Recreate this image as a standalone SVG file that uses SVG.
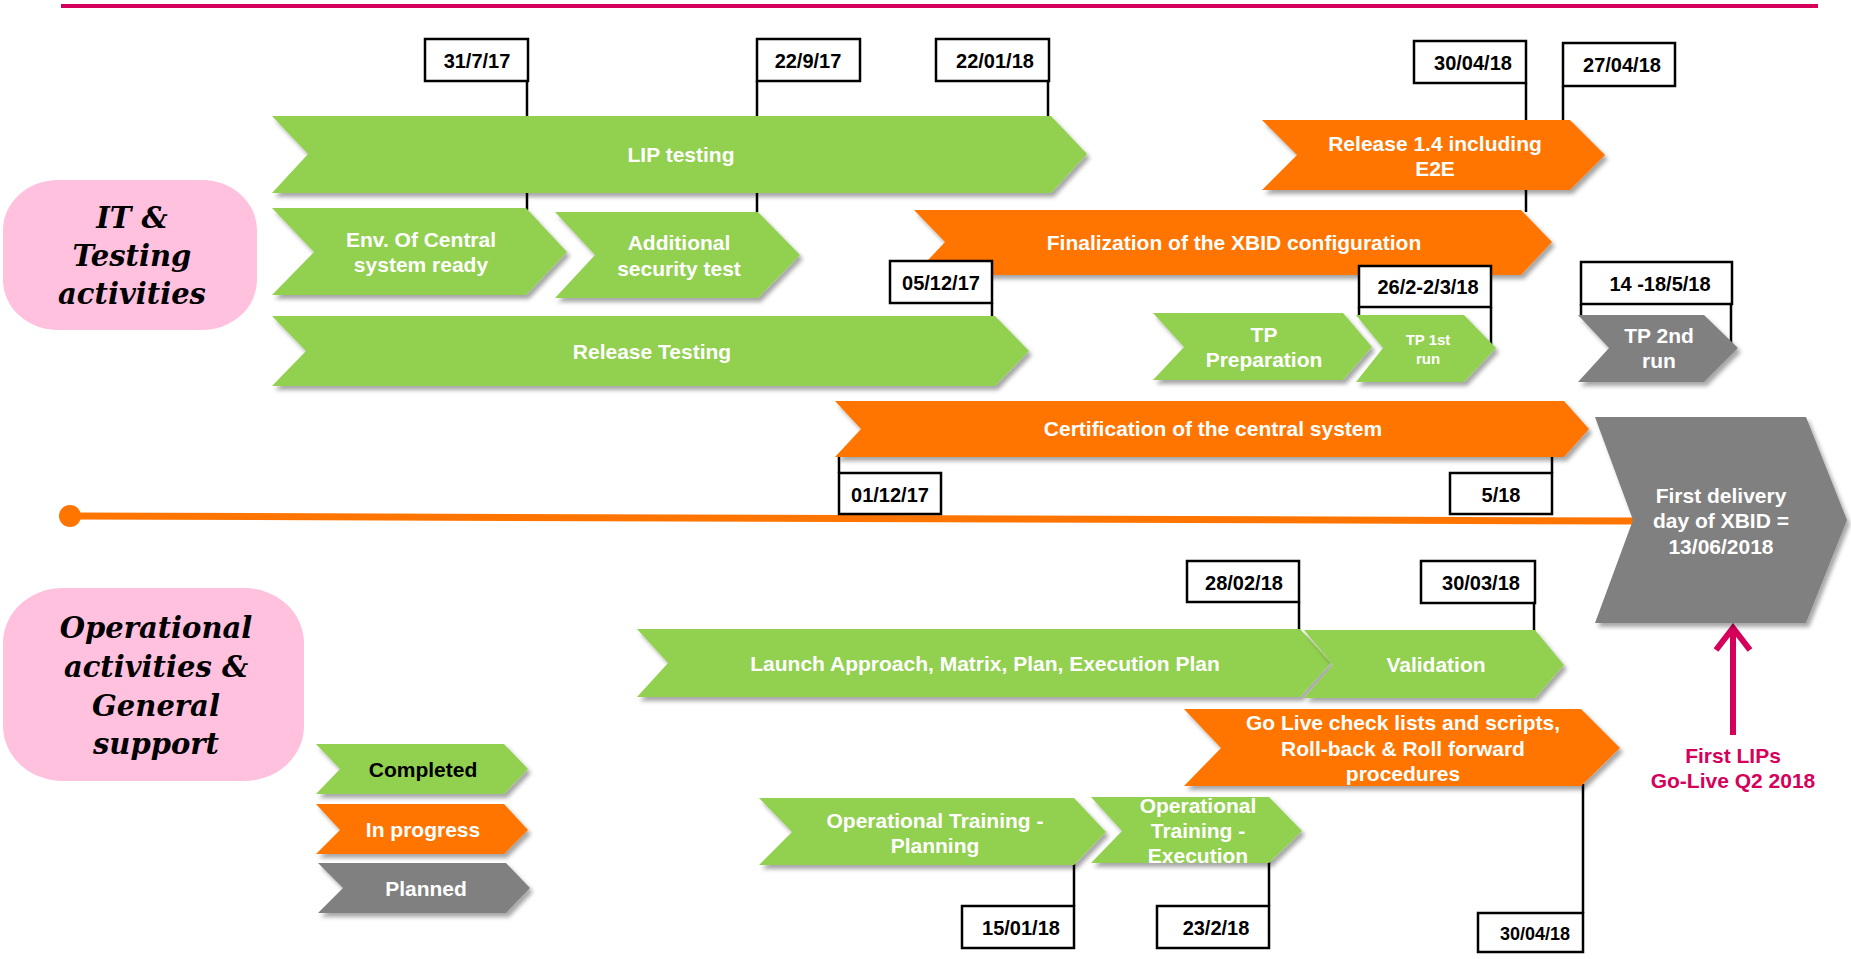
<svg xmlns="http://www.w3.org/2000/svg" width="1851" height="959" viewBox="0 0 1851 959">
<defs>
<filter id="sh" x="-10%" y="-20%" width="130%" height="150%">
<feDropShadow dx="3" dy="4" stdDeviation="2" flood-color="#000" flood-opacity="0.35"/>
</filter>
<style>
.g{fill:#92D050;filter:url(#sh)}
.o{fill:#FF7500;filter:url(#sh)}
.p{fill:#808080;filter:url(#sh)}
.t{font-family:"Liberation Sans",Arial,sans-serif;font-weight:bold;font-size:21px;fill:#fff;text-anchor:middle}
.tk{fill:#000}
.db{fill:#fff;stroke:#000;stroke-width:2.5}
.dt{font-family:"Liberation Sans",Arial,sans-serif;font-weight:bold;font-size:20px;fill:#000;text-anchor:middle}
.dl{stroke:#000;stroke-width:2.5;fill:none}
.cat{fill:#FFC1DD}
.ct{font-family:"DejaVu Serif","Liberation Serif",serif;font-weight:bold;font-style:italic;font-size:29px;fill:#000;text-anchor:middle}
</style>
</defs>
<rect width="1851" height="959" fill="#fff"/>
<line x1="61" y1="6" x2="1818" y2="6" stroke="#D6005B" stroke-width="4"/>

<g id="connectors">
<line class="dl" x1="527" y1="81" x2="527" y2="210"/>
<line class="dl" x1="757" y1="81" x2="757" y2="212"/>
<line class="dl" x1="1048" y1="81" x2="1048" y2="118"/>
<line class="dl" x1="1526" y1="83" x2="1526" y2="212"/>
<line class="dl" x1="1563" y1="86" x2="1563" y2="122"/>
<line class="dl" x1="992" y1="303" x2="992" y2="318"/>
<line class="dl" x1="1359" y1="307" x2="1359" y2="317"/>
<line class="dl" x1="1491" y1="307" x2="1491" y2="345"/>
<line class="dl" x1="1581" y1="304" x2="1581" y2="317"/>
<line class="dl" x1="1731" y1="304" x2="1731" y2="345"/>
<line class="dl" x1="839" y1="455" x2="839" y2="473"/>
<line class="dl" x1="1552" y1="455" x2="1552" y2="473"/>
<line class="dl" x1="1299" y1="602" x2="1299" y2="631"/>
<line class="dl" x1="1534" y1="603" x2="1534" y2="632"/>
<line class="dl" x1="1074" y1="863" x2="1074" y2="906"/>
<line class="dl" x1="1269" y1="861" x2="1269" y2="906"/>
<line class="dl" x1="1583" y1="784" x2="1583" y2="913"/>
<line x1="70" y1="516" x2="1636" y2="521" stroke="#FF7500" stroke-width="7"/>
<circle cx="70" cy="516" r="11" fill="#FF7500"/>
<line x1="1733" y1="735" x2="1733" y2="630" stroke="#D6005B" stroke-width="6"/>
<polyline points="1716,650 1733,628 1750,650" fill="none" stroke="#D6005B" stroke-width="6"/>
</g>

<g id="cat-it">
<rect class="cat" x="3" y="180" width="254" height="150" rx="55" ry="50"/>
<text class="ct" x="132" y="228">IT &amp;</text>
<text class="ct" x="132" y="266">Testing</text>
<text class="ct" x="132" y="304">activities</text>
</g>
<g id="cat-op">
<rect class="cat" x="3" y="588" width="301" height="193" rx="60" ry="55"/>
<text class="ct" x="156" y="638">Operational</text>
<text class="ct" x="156" y="677">activities &amp;</text>
<text class="ct" x="156" y="716">General</text>
<text class="ct" x="156" y="754">support</text>
</g>

<g id="lip-testing"><polygon class="g" points="272,116 1051,116 1087,154 1051,193 272,193 308,154"/><text class="t" x="681" y="162">LIP testing</text></g>
<g id="env-central"><polygon class="g" points="272,208 526,208 567,252 526,295 272,295 314,252"/><text class="t" x="421" y="247">Env. Of Central</text><text class="t" x="421" y="272">system ready</text></g>
<g id="additional-security"><polygon class="g" points="555,212 758,212 800,255 758,298 555,298 595,255"/><text class="t" x="679" y="250">Additional</text><text class="t" x="679" y="276">security test</text></g>
<g id="release-testing"><polygon class="g" points="272,316 995,316 1029,351 995,386 272,386 306,351"/><text class="t" x="652" y="359">Release Testing</text></g>
<g id="finalization"><polygon class="o" points="914,210 1521,210 1552,242 1521,275 914,275 945,242"/><text class="t" x="1234" y="250">Finalization of the XBID configuration</text></g>
<g id="release-14"><polygon class="o" points="1262,120 1570,120 1605,155 1570,190 1262,190 1297,155"/><text class="t" x="1435" y="151">Release 1.4 including</text><text class="t" x="1435" y="176">E2E</text></g>
<g id="tp-preparation"><polygon class="g" points="1153,313 1343,313 1372,347 1343,380 1153,380 1184,347"/><text class="t" x="1264" y="342">TP</text><text class="t" x="1264" y="367">Preparation</text></g>
<g id="tp-1st"><polygon class="g" points="1356,315 1464,315 1496,348 1464,382 1356,382 1383,348"/><text class="t" x="1428" y="345" style="font-size:15px">TP 1st</text><text class="t" x="1428" y="364" style="font-size:15px">run</text></g>
<g id="tp-2nd"><polygon class="p" points="1578,315 1704,315 1738,348 1704,382 1578,382 1609,348"/><text class="t" x="1659" y="343">TP 2nd</text><text class="t" x="1659" y="368">run</text></g>
<g id="certification"><polygon class="o" points="835,401 1564,401 1589,429 1564,457 835,457 861,429"/><text class="t" x="1213" y="436">Certification of the central system</text></g>
<g id="first-delivery"><polygon class="p" points="1595,417 1806,417 1847,520 1806,623 1595,623 1633,520"/><text class="t" x="1721" y="503">First delivery</text><text class="t" x="1721" y="528">day of XBID =</text><text class="t" x="1721" y="554">13/06/2018</text></g>
<g id="launch"><polygon class="g" points="637,629 1300,629 1331,663 1300,697 637,697 668,663"/><text class="t" x="985" y="671">Launch Approach, Matrix, Plan, Execution Plan</text></g>
<g id="validation"><polygon class="g" points="1304,630 1535,630 1564,665 1535,698 1304,698 1333,665"/><text class="t" x="1436" y="672">Validation</text></g>
<g id="go-live"><polygon class="o" points="1184,709 1581,709 1620,748 1581,786 1184,786 1221,748"/><text class="t" x="1403" y="730">Go Live check lists and scripts,</text><text class="t" x="1403" y="756">Roll-back &amp; Roll forward</text><text class="t" x="1403" y="781">procedures</text></g>
<g id="ot-planning"><polygon class="g" points="759,798 1074,798 1106,832 1074,865 759,865 792,832"/><text class="t" x="935" y="828">Operational Training -</text><text class="t" x="935" y="853">Planning</text></g>
<g id="ot-execution"><polygon class="g" points="1091,797 1269,797 1302,831 1269,863 1091,863 1122,831"/><text class="t" x="1198" y="813">Operational</text><text class="t" x="1198" y="838">Training -</text><text class="t" x="1198" y="863">Execution</text></g>
<g id="first-lips"><text class="t" x="1733" y="763" style="fill:#D6005B">First LIPs</text><text class="t" x="1733" y="788" style="fill:#D6005B">Go-Live Q2 2018</text></g>

<g id="legend-completed"><polygon class="g" points="316,744 504,744 528,769 504,794 316,794 340,769"/><text class="t tk" x="423" y="777">Completed</text></g>
<g id="legend-progress"><polygon class="o" points="316,804 504,804 528,830 504,854 316,854 340,830"/><text class="t" x="423" y="837">In progress</text></g>
<g id="legend-planned"><polygon class="p" points="318,863 506,863 530,888 506,913 318,913 343,888"/><text class="t" x="426" y="896">Planned</text></g>

<g id="d-310717"><rect class="db" x="425" y="39" width="103" height="42"/><text class="dt" x="477" y="68">31/7/17</text></g>
<g id="d-220917"><rect class="db" x="757" y="39" width="103" height="42"/><text class="dt" x="808" y="68">22/9/17</text></g>
<g id="d-220118"><rect class="db" x="936" y="39" width="113" height="42"/><text class="dt" x="995" y="68">22/01/18</text></g>
<g id="d-300418a"><rect class="db" x="1414" y="41" width="112" height="42"/><text class="dt" x="1473" y="70">30/04/18</text></g>
<g id="d-270418"><rect class="db" x="1563" y="43" width="112" height="43"/><text class="dt" x="1622" y="72">27/04/18</text></g>
<g id="d-051217"><rect class="db" x="890" y="261" width="102" height="42"/><text class="dt" x="941" y="290">05/12/17</text></g>
<g id="d-2602"><rect class="db" x="1359" y="266" width="132" height="41"/><text class="dt" x="1428" y="294">26/2-2/3/18</text></g>
<g id="d-1418"><rect class="db" x="1581" y="262" width="151" height="42"/><text class="dt" x="1660" y="291">14 -18/5/18</text></g>
<g id="d-011217"><rect class="db" x="839" y="473" width="102" height="41"/><text class="dt" x="890" y="502">01/12/17</text></g>
<g id="d-518"><rect class="db" x="1450" y="473" width="102" height="41"/><text class="dt" x="1501" y="502">5/18</text></g>
<g id="d-280218"><rect class="db" x="1187" y="561" width="112" height="41"/><text class="dt" x="1244" y="590">28/02/18</text></g>
<g id="d-300318"><rect class="db" x="1421" y="561" width="114" height="42"/><text class="dt" x="1481" y="590">30/03/18</text></g>
<g id="d-150118"><rect class="db" x="962" y="906" width="112" height="42"/><text class="dt" x="1021" y="935">15/01/18</text></g>
<g id="d-230218"><rect class="db" x="1157" y="906" width="112" height="42"/><text class="dt" x="1216" y="935">23/2/18</text></g>
<g id="d-300418b"><rect class="db" x="1478" y="913" width="105" height="39"/><text class="dt" x="1535" y="940" style="font-size:18px">30/04/18</text></g>
</svg>
